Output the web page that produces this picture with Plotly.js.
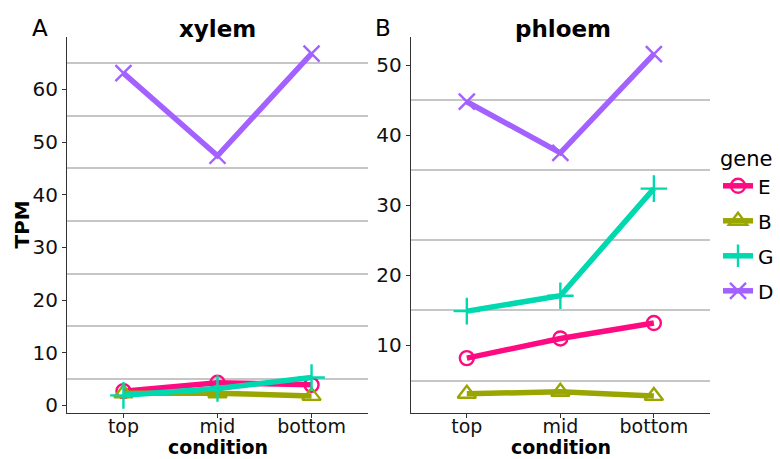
<!DOCTYPE html>
<html>
<head>
<meta charset="utf-8">
<script src="https://cdn.plot.ly/plotly-3.0.1.min.js"></script>
<style>html,body{margin:0;padding:0;background:#fff;}#plot{width:780px;height:459px;}</style>
</head>
<body>
<div id="plot"></div>
<script>
const conditions = ['top', 'mid', 'bottom'];
const genes = ['E', 'B', 'G', 'D'];
const xylemE = [2.7, 4.3, 3.9];
const xylemB = [2.3, 2.3, 1.8];
const xylemG = [1.9, 3.2, 5.3];
const xylemD = [63.1, 47.4, 66.8];
const phloemE = [8.2, 11.0, 13.2];
const phloemB = [3.1, 3.4, 2.8];
const phloemG = [14.9, 17.1, 32.4];
const phloemD = [44.8, 37.5, 51.6];
const yTicksXylem = [0, 10, 20, 30, 40, 50, 60];
const yTicksPhloem = [10, 20, 30, 40, 50];

const colors = {E: '#FF0A80', B: '#9AA600', G: '#00D8B0', D: '#A361FF'};
const symbols = {E: 'circle-open', B: 'triangle-up-open', G: 'cross-thin-open', D: 'x-thin-open'};
const sizes = {E: 14, B: 16, G: 19, D: 16};
const xyl = {E: xylemE, B: xylemB, G: xylemG, D: xylemD};
const phl = {E: phloemE, B: phloemB, G: phloemG, D: phloemD};

const traces = [];
genes.forEach(g => {
  const mk = {symbol: symbols[g], size: sizes[g], color: colors[g], line: {width: 2.4, color: colors[g]}};
  traces.push({x: conditions, y: xyl[g], type: 'scatter', mode: 'lines+markers', name: g, legendgroup: g,
    line: {color: colors[g], width: 5.5}, marker: mk, xaxis: 'x', yaxis: 'y'});
  traces.push({x: conditions, y: phl[g], type: 'scatter', mode: 'lines+markers', name: g, legendgroup: g, showlegend: false,
    line: {color: colors[g], width: 5.5}, marker: mk, xaxis: 'x2', yaxis: 'y2'});
});

const fontFam = 'DejaVu Sans, Verdana, sans-serif';
const ydom = [46/459, 422/459];
function yax(ticks, range) {
  return {
    domain: ydom, range: range, tickmode: 'array', tickvals: ticks, showgrid: false, zeroline: false,
    showline: true, linecolor: '#333', linewidth: 1.1, ticks: 'outside', ticklen: 4, tickcolor: '#333', tickwidth: 1.1,
    tickfont: {family: fontFam, size: 20, color: '#111'},
    minor: {tick0: 5, dtick: 10, showgrid: true, gridcolor: '#C6C6C6', gridwidth: 1.5, ticklen: 0}
  };
}
function xax(dom, anchor) {
  return {
    domain: dom, anchor: anchor, type: 'category', range: [-0.6, 2.6], showgrid: false, zeroline: false,
    showline: true, linecolor: '#333', linewidth: 1.1, ticks: 'outside', ticklen: 4, tickcolor: '#333', tickwidth: 1.1,
    ticklabelstandoff: -8,
    tickfont: {family: fontFam, size: 19, color: '#111'}
  };
}

function ann(text, xpx, ypx, size, extra) {
  return Object.assign({text: text, x: xpx/780, y: (459-ypx)/459, xref: 'paper', yref: 'paper', showarrow: false,
    font: {family: fontFam, size: size, color: '#000'}, xanchor: 'center', yanchor: 'middle'}, extra || {});
}

const layout = {
  width: 780, height: 459,
  margin: {l: 0, r: 0, t: 0, b: 0},
  paper_bgcolor: '#fff', plot_bgcolor: '#fff',
  font: {family: fontFam},
  xaxis: xax([67/780, 368/780], 'y'),
  yaxis: Object.assign(yax(yTicksXylem, [-1.45, 69.95]), {anchor: 'x'}),
  xaxis2: xax([410.7/780, 710/780], 'y2'),
  yaxis2: Object.assign(yax(yTicksPhloem, [0.36, 54.04]), {anchor: 'x2'}),
  showlegend: true,
  legend: {x: 718/780, y: (459-139)/459, xanchor: 'left', yanchor: 'top', tracegroupgap: 6, traceorder: 'grouped',
    title: {text: 'gene', font: {family: fontFam, size: 21, color: '#000'}},
    font: {family: fontFam, size: 20, color: '#000'}, itemwidth: 30},
  annotations: [
    ann('<b>xylem</b>', 217.5, 29, 23),
    ann('<b>phloem</b>', 563, 29, 23),
    ann('A', 40, 28, 23),
    ann('B', 383, 28, 23),
    ann('<b>condition</b>', 217.5, 459, 19, {yanchor: 'bottom', borderpad: 0}),
    ann('<b>condition</b>', 560.5, 459, 19, {yanchor: 'bottom', borderpad: 0}),
    ann('<b>TPM</b>', 21.5, 225, 20, {textangle: -90})
  ]
};

Plotly.newPlot('plot', traces, layout, {displayModeBar: false, responsive: false});
</script>
</body>
</html>
